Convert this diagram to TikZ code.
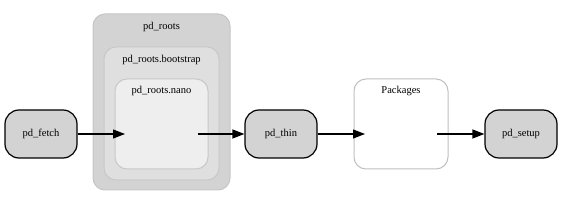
\documentclass[tikz,border=0pt]{standalone}
\usepackage{fontspec}
\setmainfont{Liberation Serif}
\usetikzlibrary{arrows.meta}
\definecolor{nodefill}{HTML}{D3D3D3}
\definecolor{outerfill}{HTML}{D3D3D3}
\definecolor{outerline}{HTML}{C6C6C6}
\definecolor{midfill}{HTML}{DFDFDF}
\definecolor{midline}{HTML}{C8C8C8}
\definecolor{innerfill}{HTML}{EEEEEE}
\definecolor{innerline}{HTML}{C8C8C8}
\definecolor{pkgline}{HTML}{C0C0C0}
\tikzset{
  task/.style={draw=black, line width=1.2pt, fill=nodefill, rounded corners=14pt,
    minimum width=72pt, minimum height=48pt, inner sep=0pt, font=\fontsize{10.5}{12}\selectfont},
  cluster/.style={rounded corners=12pt, line width=1pt},
  clabel/.style={font=\fontsize{10.5}{12}\selectfont, inner sep=0pt},
  edge/.style={line width=1.2pt, -{Triangle[length=12pt,width=9pt]}}
}
\begin{document}
\begin{tikzpicture}[x=1pt,y=-1pt]
\useasboundingbox (0,0) rectangle (563,208);
% clusters
\draw[cluster, fill=outerfill, draw=outerline] (93,14) rectangle (230,190);
\node[clabel] (lroots) at (161.5,27) {pd\_roots};
\draw[cluster, fill=midfill, draw=midline] (104,47) rectangle (219,180);
\node[clabel] (lboot) at (161.5,60) {pd\_roots.bootstrap};
\draw[cluster, fill=innerfill, draw=innerline] (115,79) rectangle (208,169);
\node[clabel] (lnano) at (161.5,91) {pd\_roots.nano};
\draw[cluster, fill=white, draw=pkgline] (354,79) rectangle (448,169);
\node[clabel] (lpkg) at (401,91) {Packages};
% nodes
\node[task] (fetch) at (41,134) {pd\_fetch};
\node[task] (thin) at (281,134) {pd\_thin};
\node[task] (setup) at (521,134) {pd\_setup};
\coordinate (nanoIn) at (125,134);
\coordinate (nanoOut) at (198,134);
\coordinate (pkgIn) at (365,134);
\coordinate (pkgOut) at (437,134);
% edges
\draw[edge] (fetch) -- (nanoIn);
\draw[edge] (nanoOut) -- (thin);
\draw[edge] (thin) -- (pkgIn);
\draw[edge] (pkgOut) -- (setup);
\end{tikzpicture}
\end{document}
